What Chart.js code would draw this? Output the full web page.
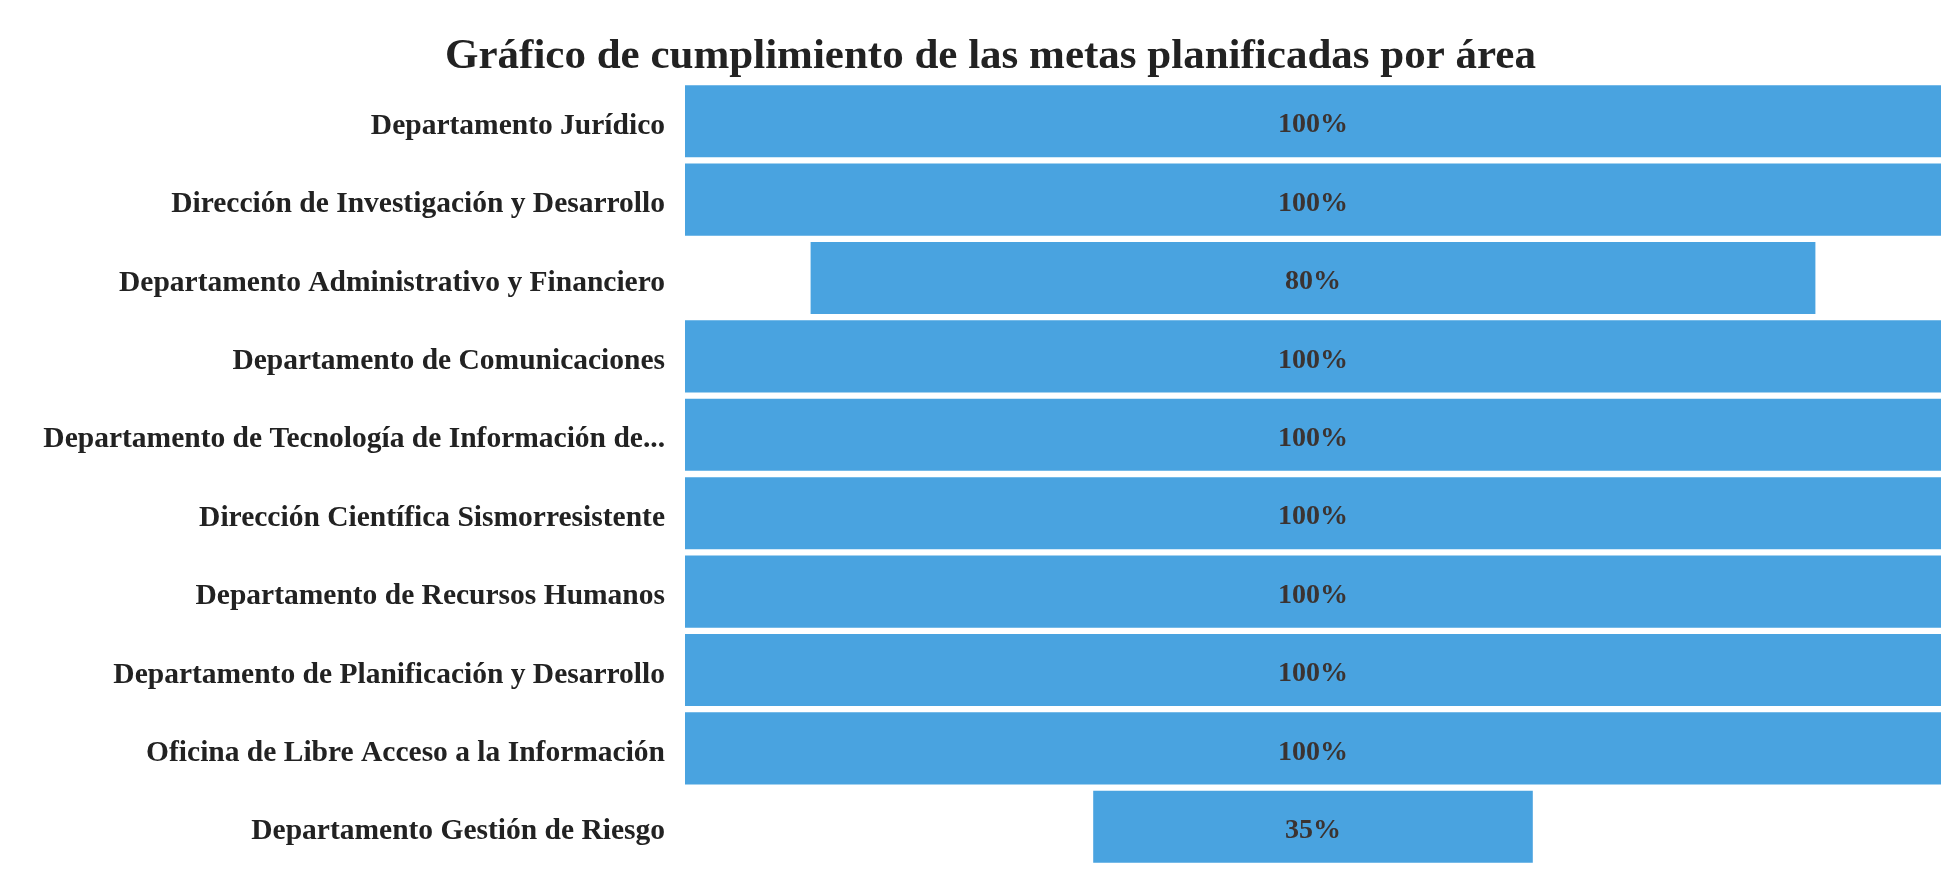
<!DOCTYPE html>
<html>
<head>
<meta charset="utf-8">
<script src="https://cdn.jsdelivr.net/npm/chart.js@4"></script>
<style>
  html, body { margin: 0; padding: 0; background: #ffffff; }
  #wrap { width: 1947px; height: 880px; }
</style>
</head>
<body>
<div id="wrap"><canvas id="funnelChart"></canvas></div>
<script>
// areas, top to bottom
const areas = [
    'Departamento Jurídico',
    'Dirección de Investigación y Desarrollo',
    'Departamento Administrativo y Financiero',
    'Departamento de Comunicaciones',
    'Departamento de Tecnología de Información de...',
    'Dirección Científica Sismorresistente',
    'Departamento de Recursos Humanos',
    'Departamento de Planificación y Desarrollo',
    'Oficina de Libre Acceso a la Información',
    'Departamento Gestión de Riesgo'
];

// porcentaje de cumplimiento
const cumplimiento = [100, 100, 80, 100, 100, 100, 100, 100, 100, 35];

// bars are centred, like a funnel
const ranges = cumplimiento.map(v => [50 - v / 2, 50 + v / 2]);

// draws the % text in the middle of each bar
const centerLabels = {
    id: 'centerLabels',
    afterDatasetsDraw(chart) {
        const ctx = chart.ctx;
        const meta = chart.getDatasetMeta(0);
        ctx.save();
        ctx.font = 'bold 28px "Liberation Serif", "Times New Roman", serif';
        ctx.fillStyle = '#3b3331';
        ctx.textAlign = 'center';
        ctx.textBaseline = 'middle';
        meta.data.forEach((bar, i) => {
            const x = chart.scales.x.getPixelForValue(50);
            ctx.fillText(cumplimiento[i] + '%', x, bar.y + 4);
        });
        ctx.restore();
    }
};

const ctx = document.getElementById('funnelChart').getContext('2d');

new Chart(ctx, {
    type: 'bar',
    data: {
        labels: areas,
        datasets: [{
            label: 'Cumplimiento',
            data: ranges,
            backgroundColor: '#49A3E0',
            borderWidth: 0,
            categoryPercentage: 1,
            barPercentage: 0.92
        }]
    },
    options: {
        indexAxis: 'y',
        responsive: true,
        maintainAspectRatio: false,
        animation: false,
        layout: { padding: { left: 40, right: 6, top: 0, bottom: 14 } },
        scales: {
            x: {
                min: 0,
                max: 100,
                display: false
            },
            y: {
                grid: { display: false },
                border: { display: false },
                ticks: {
                    color: '#222222',
                    padding: 12,
                    labelOffset: 5,
                    font: { family: '"Liberation Serif", "Times New Roman", serif', size: 29.5, weight: 'bold' }
                },
                afterFit(scale) {
                    scale.width = 645;
                    // no extra room for half labels at top/bottom
                    scale.paddingTop = 0;
                    scale.paddingBottom = 0;
                }
            }
        },
        plugins: {
            legend: { display: false },
            tooltip: { enabled: false },
            title: {
                display: true,
                text: 'Gráfico de cumplimiento de las metas planificadas por área',
                color: '#222222',
                font: { family: '"Liberation Serif", "Times New Roman", serif', size: 43, weight: 'bold', lineHeight: 1 },
                padding: { top: 35, bottom: 4 }
            }
        }
    },
    plugins: [centerLabels]
});
</script>
</body>
</html>
